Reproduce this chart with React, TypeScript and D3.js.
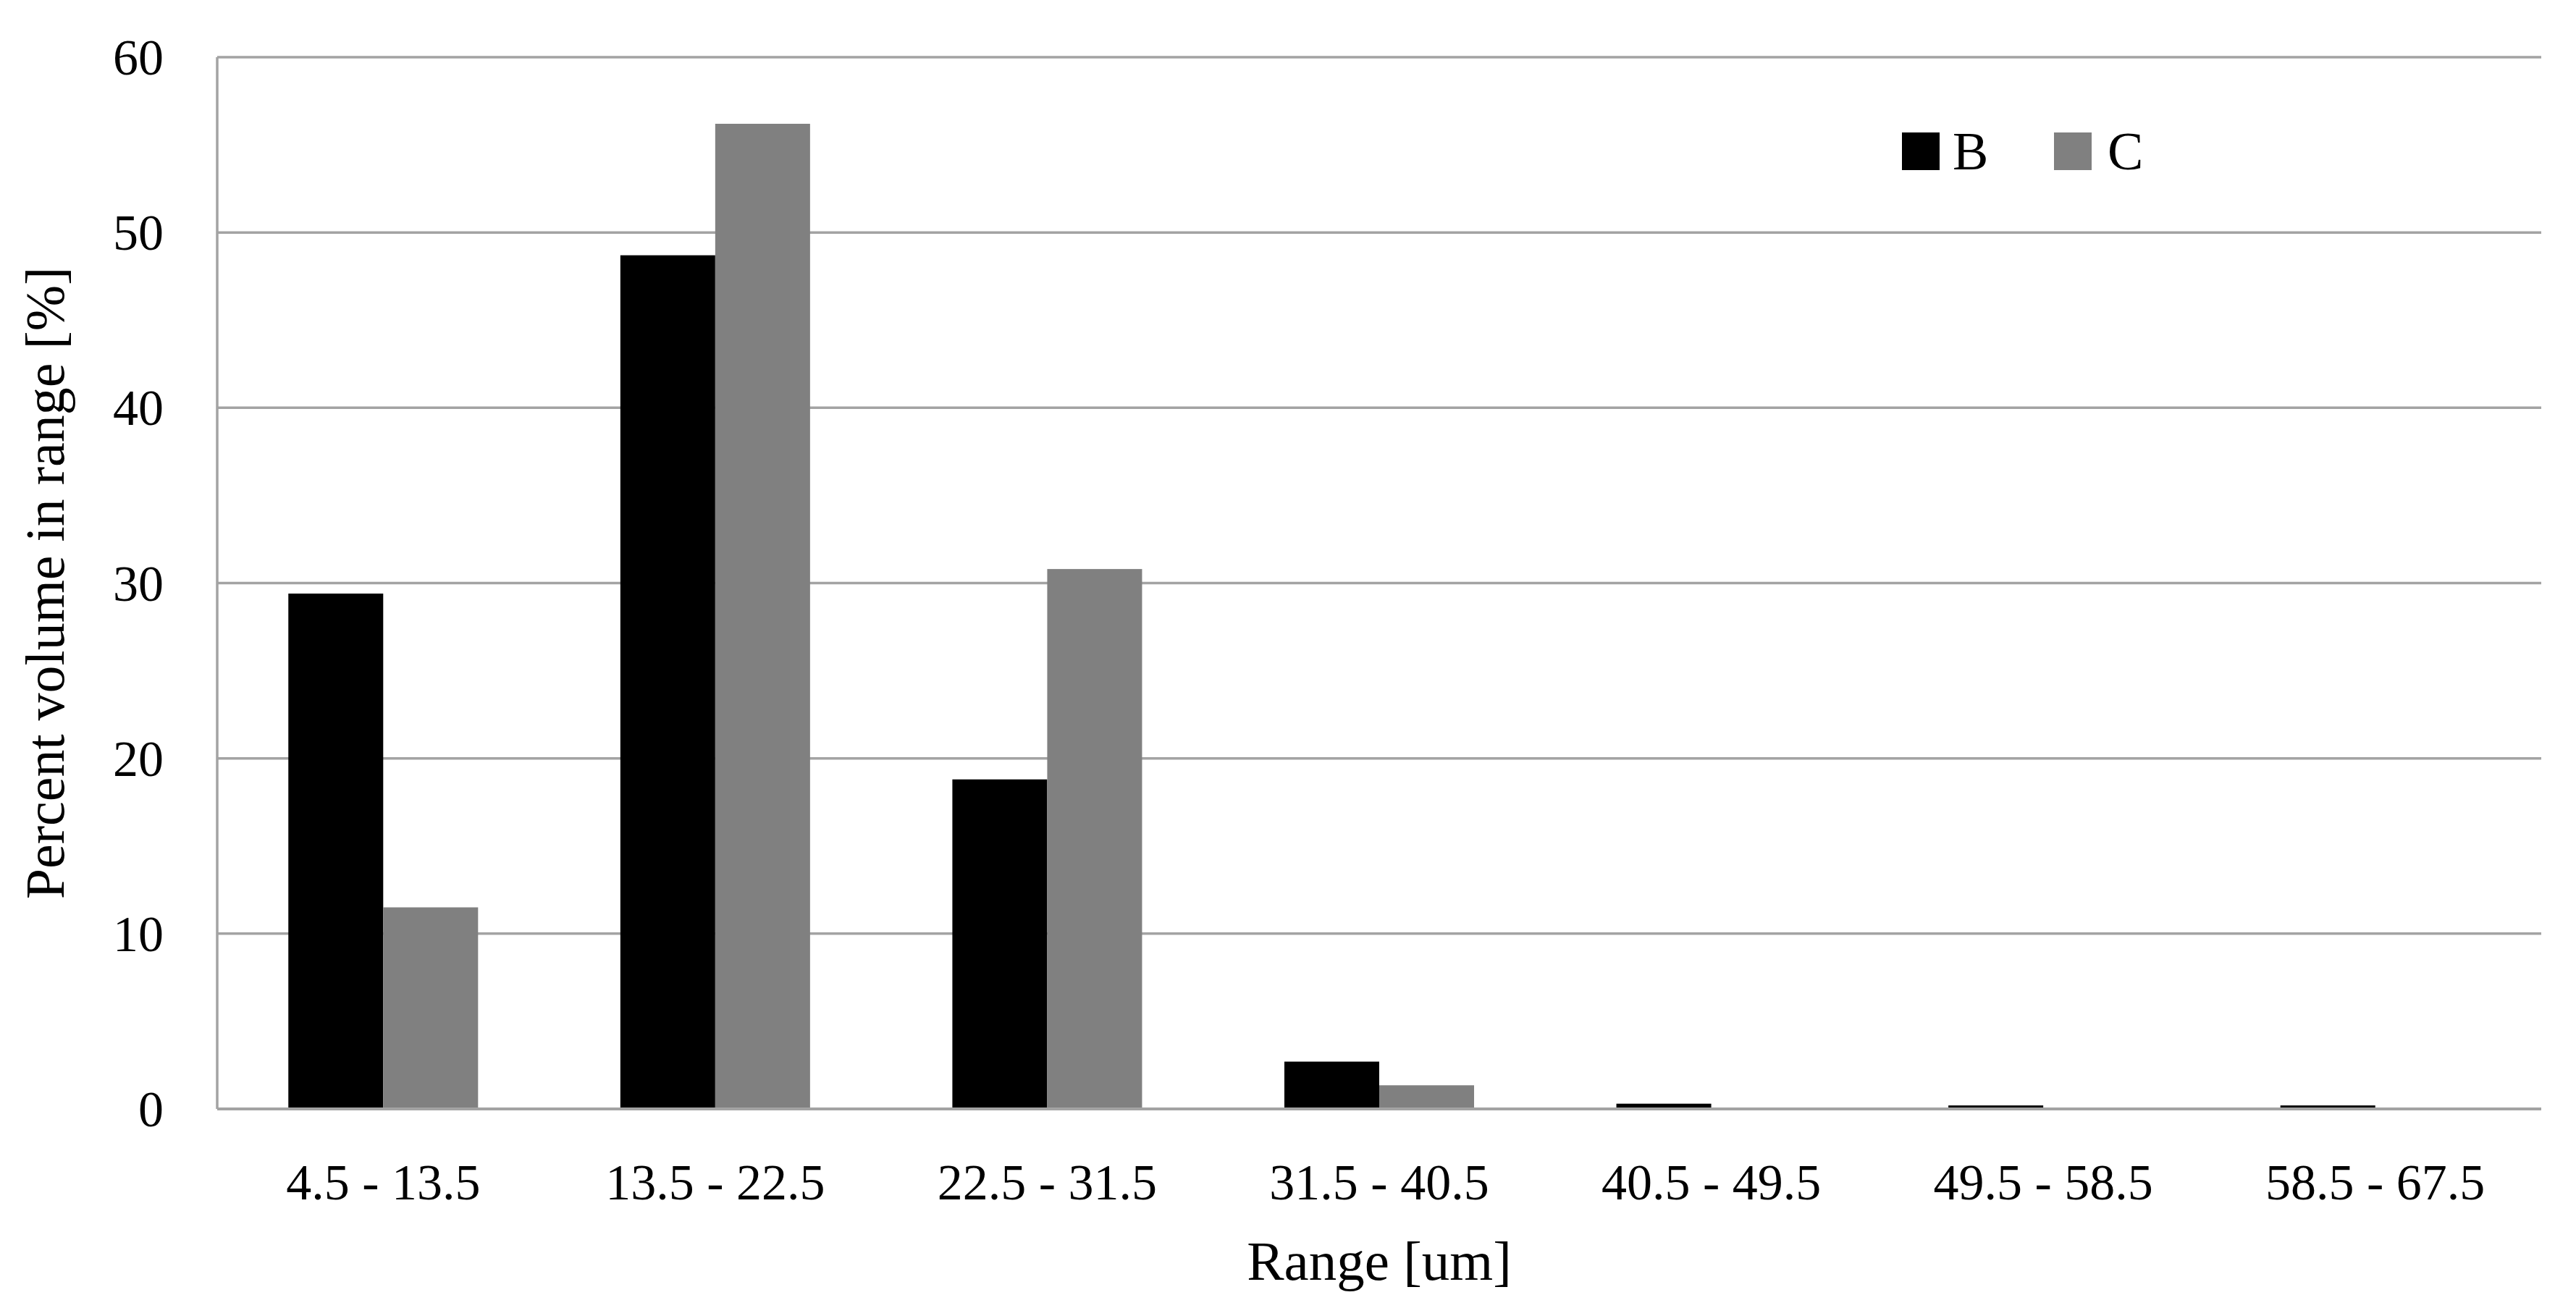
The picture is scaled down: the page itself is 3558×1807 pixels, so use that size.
import React from "react";
import * as d3 from "d3";

const categories = ["4.5 - 13.5", "13.5 - 22.5", "22.5 - 31.5", "31.5 - 40.5", "40.5 - 49.5", "49.5 - 58.5", "58.5 - 67.5"];
const seriesNames = ["B", "C"];
const valuesB = [29.4, 48.7, 18.8, 2.7, 0.3, 0.2, 0.2];
const valuesC = [11.5, 56.2, 30.8, 1.35, 0, 0, 0];
const seriesColors = ["#000000", "#808080"];
const yTicks = [0, 10, 20, 30, 40, 50, 60];
const xTitle = "Range [um]";
const yTitle = "Percent volume in range [%]";

const W = 3558;
const H = 1807;
const left = 300;
const right = 3510;
const top = 79;
const bottom = 1532;
const FONT = "'Liberation Serif', 'Times New Roman', serif";

export default function App() {
  const x = d3.scaleBand<string>().domain(categories).range([left, right]).padding(0);
  const bw = x.bandwidth();
  const gapFrac = 1.5 / 7;
  const x1 = d3.scaleBand<string>().domain(seriesNames).range([bw * gapFrac, bw * (1 - gapFrac)]).padding(0);
  const y = d3.scaleLinear().domain([0, 60]).range([bottom, top]);
  const series = [valuesB, valuesC];

  return (
    <div style={{ position: "absolute", left: 0, top: 0 }}>
      <svg width={W} height={H} style={{ display: "block", background: "#fff" }}>
        <rect x={0} y={0} width={W} height={H} fill="#fff" />
        {yTicks.filter((t) => t > 0).map((t) => (
          <line key={"g" + t} x1={left} x2={right} y1={y(t)} y2={y(t)} stroke="#a3a3a3" strokeWidth={3.5} />
        ))}
        <line x1={left} x2={left} y1={top} y2={bottom} stroke="#a3a3a3" strokeWidth={3.5} />
        {categories.map((c, i) =>
          series.map((vals, s) => {
            const v = vals[i];
            if (v <= 0) return null;
            return (
              <rect
                key={c + s}
                x={(x(c) as number) + (x1(seriesNames[s]) as number)}
                width={x1.bandwidth()}
                y={y(v)}
                height={y(0) - y(v)}
                fill={seriesColors[s]}
              />
            );
          })
        )}
        <line x1={left} x2={right} y1={bottom} y2={bottom} stroke="#a3a3a3" strokeWidth={4} />
        {yTicks.map((t) => (
          <text key={"yt" + t} x={226} y={y(t) + 24} textAnchor="end" fontFamily={FONT} fontSize={70} fill="#000">
            {t}
          </text>
        ))}
        {categories.map((c) => (
          <text key={"xt" + c} x={(x(c) as number) + bw / 2} y={1657} textAnchor="middle" fontFamily={FONT} fontSize={70} fill="#000">
            {c}
          </text>
        ))}
        <text x={(left + right) / 2} y={1768} textAnchor="middle" fontFamily={FONT} fontSize={77} fill="#000">
          {xTitle}
        </text>
        <text
          transform={`translate(88,${(top + bottom) / 2}) rotate(-90)`}
          textAnchor="middle"
          fontFamily={FONT}
          fontSize={76}
          fill="#000"
        >
          {yTitle}
        </text>
        {seriesNames.map((n, i) => (
          <g key={"lg" + n}>
            <rect x={2627 + i * 210} y={183} width={52} height={52} fill={seriesColors[i]} />
            <text x={2697 + i * 214} y={234} fontFamily={FONT} fontSize={74} fill="#000">
              {n}
            </text>
          </g>
        ))}
      </svg>
    </div>
  );
}
